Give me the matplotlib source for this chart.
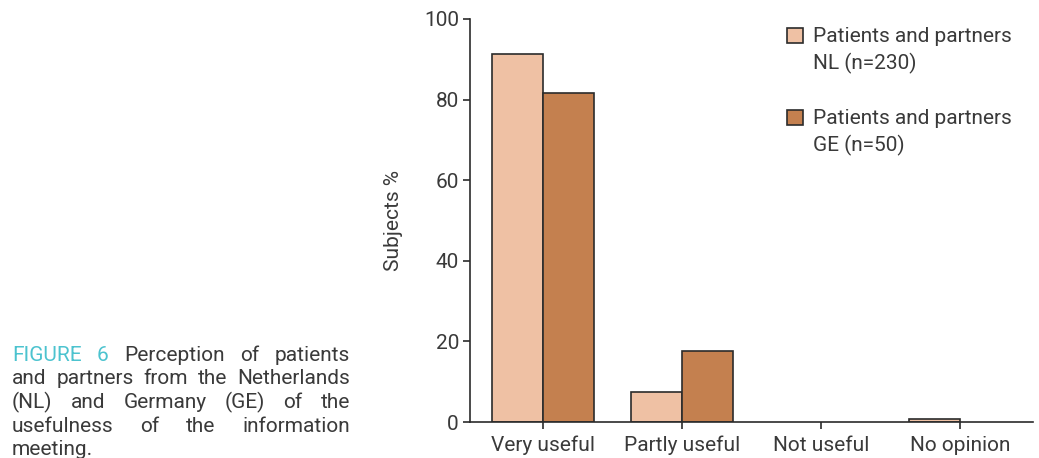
import matplotlib
matplotlib.use("Agg")
import matplotlib.pyplot as plt
from matplotlib.patches import Rectangle
import numpy as np

# values
categories = ["Very useful", "Partly useful", "Not useful", "No opinion"]
nl_values = [91.4, 7.5, 0.0, 0.8]
ge_values = [81.7, 17.6, 0.0, 0.0]
series_labels = [["Patients and partners", "NL (n=230)"],
                 ["Patients and partners", "GE (n=50)"]]
yticks = [0, 20, 40, 60, 80, 100]

caption_lines = [
    ["FIGURE", "6", "Perception", "of", "patients"],
    ["and", "partners", "from", "the", "Netherlands"],
    ["(NL)", "and", "Germany", "(GE)", "of", "the"],
    ["usefulness", "of", "the", "information"],
    ["meeting."],
]

NL_COLOR = "#efc1a4"
GE_COLOR = "#c4804f"
EDGE = "#2b2b2b"
TEXT = "#3a3a3a"
CYAN = "#4cc3cf"
FONT = "Roboto"
FS = 15

W, H = 1039, 458
plt.rcParams["font.family"] = [FONT, "DejaVu Sans"]

fig = plt.figure(figsize=(W / 100, H / 100), dpi=100)


def fx(x):
    return x / W


def fy(y):
    return 1 - y / H


ax = fig.add_axes([fx(470), fy(422), fx(1033) - fx(470), fy(19) - fy(422)])

x = np.arange(len(categories))
w = 0.367
# no outline on empty bars, they would only thicken the axis line
nl_lw = [1.2 if v > 0 else 0 for v in nl_values]
ge_lw = [1.2 if v > 0 else 0 for v in ge_values]
ax.bar(x - w / 2, nl_values, w, color=NL_COLOR, edgecolor=EDGE, linewidth=nl_lw, zorder=2)
ax.bar(x + w / 2, ge_values, w, color=GE_COLOR, edgecolor=EDGE, linewidth=ge_lw, zorder=2)

ax.set_xlim(-0.523, 3.527)
ax.set_ylim(0, 100)
ax.set_xticks(x)
ax.set_xticklabels(categories, fontsize=FS, color=TEXT)
ax.set_yticks(yticks)
ax.set_yticklabels([str(t) for t in yticks], fontsize=FS, color=TEXT)
ax.tick_params(axis="both", direction="out", length=5, width=1.2, color=EDGE)
ax.tick_params(axis="x", pad=5)
ax.tick_params(axis="y", pad=3)
for side in ["top", "right"]:
    ax.spines[side].set_visible(False)
for side in ["left", "bottom"]:
    ax.spines[side].set_linewidth(1.2)
    ax.spines[side].set_color(EDGE)
    ax.spines[side].set_zorder(3)
ax.set_ylabel("Subjects %", fontsize=FS, color=TEXT)
ax.yaxis.set_label_coords((403 - 470) / (1033 - 470), 0.5)

# legend drawn by hand: swatch aligned with the first text line
legend_rows = [(28, NL_COLOR), (110, GE_COLOR)]
for (top, color), lines in zip(legend_rows, series_labels):
    fig.patches.append(Rectangle((fx(787), fy(top + 15)), fx(16), 15 / H,
                                 transform=fig.transFigure, facecolor=color,
                                 edgecolor=EDGE, linewidth=1.2))
    for i, line in enumerate(lines):
        fig.text(fx(813), fy(top + 14 + i * 27), line, fontsize=FS,
                 color=TEXT, va="baseline", ha="left")

# caption, justified between x=12 and x=350
renderer = fig.canvas.get_renderer()
left, right = 12, 350
for li, words in enumerate(caption_lines):
    base = 361 + li * 23.5
    texts = []
    for wi, word in enumerate(words):
        col = CYAN if li == 0 and wi < 2 else TEXT
        texts.append(fig.text(0, fy(base), word, fontsize=FS, color=col,
                              va="baseline", ha="left"))
    widths = [t.get_window_extent(renderer).width for t in texts]
    if li < len(caption_lines) - 1 and len(words) > 1:
        gap = (right - left - sum(widths)) / (len(words) - 1)
    else:
        gap = 5
    pos = left
    for t, wd in zip(texts, widths):
        t.set_x(fx(pos))
        pos += wd + gap

fig.savefig("out.png", dpi=100)
